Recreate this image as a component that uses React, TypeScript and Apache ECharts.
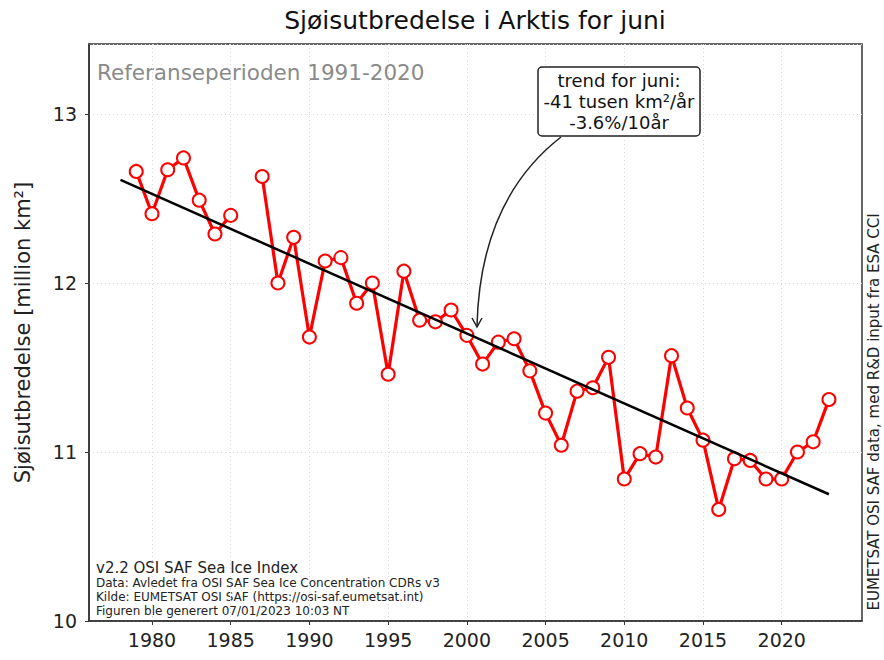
import React, { useEffect, useRef } from "react";
import * as echarts from "echarts";

const years = [
  1979, 1980, 1981, 1982, 1983, 1984, 1985, 1986, 1987, 1988, 1989, 1990,
  1991, 1992, 1993, 1994, 1995, 1996, 1997, 1998, 1999, 2000, 2001, 2002,
  2003, 2004, 2005, 2006, 2007, 2008, 2009, 2010, 2011, 2012, 2013, 2014,
  2015, 2016, 2017, 2018, 2019, 2020, 2021, 2022, 2023,
];
const extentJune: (number | null)[] = [
  12.66, 12.41, 12.67, 12.74, 12.49, 12.29, 12.4, null, 12.63, 12.0, 12.27, 11.68,
  12.13, 12.15, 11.88, 12.0, 11.46, 12.07, 11.78, 11.77, 11.84, 11.69, 11.52, 11.65,
  11.67, 11.48, 11.23, 11.04, 11.36, 11.38, 11.56, 10.84, 10.99, 10.97, 11.57, 11.26,
  11.07, 10.66, 10.96, 10.95, 10.84, 10.84, 11.0, 11.06, 11.31,
];
const trendYears = [1978, 2023];
const trendValues = [12.61, 10.75];
const xTickYears = [1980, 1985, 1990, 1995, 2000, 2005, 2010, 2015, 2020];

const FONT = "DejaVu Sans";

export default function App() {
  const ref = useRef<HTMLDivElement>(null);
  useEffect(() => {
    if (!ref.current) return;
    const chart = echarts.init(ref.current, undefined, { renderer: "svg" });
    const grid = { left: 89, top: 44, right: 22, bottom: 39 };
    chart.setOption({
      animation: false,
      backgroundColor: "#ffffff",
      textStyle: { fontFamily: FONT },
      grid: { ...grid, show: true, borderColor: "#333333", borderWidth: 1.5, backgroundColor: "transparent" },
      xAxis: {
        type: "value",
        min: 1976,
        max: 2025.1,
        axisLine: { show: true, onZero: false, lineStyle: { color: "#333", width: 1.5 } },
        axisTick: { show: true, length: 4, customValues: xTickYears, lineStyle: { color: "#333" } },
        axisLabel: {
          customValues: xTickYears,
          fontSize: 19,
          color: "#222",
          margin: 9,
          fontFamily: FONT,
          formatter: (v: number) => String(v),
        },
        splitLine: { show: true, lineStyle: { color: "#d8d8d8", type: [1, 3], width: 1 } },
      },
      yAxis: {
        type: "value",
        min: 10,
        max: 13.414,
        interval: 1,
        name: "Sjøisutbredelse [million km²]",
        nameLocation: "middle",
        nameGap: 56,
        nameTextStyle: { fontSize: 21, color: "#222", fontFamily: FONT },
        axisLine: { show: true, lineStyle: { color: "#333", width: 1.5 } },
        axisTick: { show: true, length: 4, lineStyle: { color: "#333" } },
        axisLabel: {
          fontSize: 19,
          color: "#222",
          margin: 12,
          showMaxLabel: false,
          fontFamily: FONT,
          formatter: (v: number) => (Number.isInteger(v) ? String(v) : ""),
        },
        splitLine: { show: true, lineStyle: { color: "#d8d8d8", type: [1, 3], width: 1 } },
      },
      series: [
        {
          type: "line",
          data: years.map((y, i) => [y, extentJune[i]]),
          connectNulls: false,
          lineStyle: { color: "#ff0000", width: 3.2 },
          itemStyle: { color: "#ffffff", borderColor: "#ff0000", borderWidth: 2 },
          symbol: "circle",
          symbolSize: 13,
          showSymbol: true,
          z: 2,
        },
        {
          type: "line",
          data: trendYears.map((y, i) => [y, trendValues[i]]),
          lineStyle: { color: "#000000", width: 2.5 },
          symbol: "none",
          z: 3,
        },
      ],
      graphic: [
        {
          type: "text",
          x: 475,
          y: 20,
          style: {
            text: "Sjøisutbredelse i Arktis for juni",
            font: `25px "${FONT}"`,
            fill: "#111",
            textAlign: "center",
            textVerticalAlign: "middle",
          },
        },
        {
          type: "text",
          x: 97,
          y: 72,
          style: {
            text: "Referanseperioden 1991-2020",
            font: `21.5px "${FONT}"`,
            fill: "#8a8a8a",
            textAlign: "left",
            textVerticalAlign: "middle",
          },
        },
        {
          type: "text",
          x: 96,
          y: 568,
          style: { text: "v2.2 OSI SAF Sea Ice Index", font: `15px "${FONT}"`, fill: "#222", textVerticalAlign: "middle" },
        },
        {
          type: "text",
          x: 96,
          y: 583,
          style: {
            text: "Data: Avledet fra OSI SAF Sea Ice Concentration CDRs v3",
            font: `12px "${FONT}"`,
            fill: "#222",
            textVerticalAlign: "middle",
          },
        },
        {
          type: "text",
          x: 96,
          y: 597,
          style: {
            text: "Kilde: EUMETSAT OSI SAF (https://osi-saf.eumetsat.int)",
            font: `12px "${FONT}"`,
            fill: "#222",
            textVerticalAlign: "middle",
          },
        },
        {
          type: "text",
          x: 96,
          y: 611,
          style: {
            text: "Figuren ble generert 07/01/2023 10:03 NT",
            font: `12px "${FONT}"`,
            fill: "#222",
            textVerticalAlign: "middle",
          },
        },
        {
          type: "text",
          x: 874,
          y: 412,
          rotation: Math.PI / 2,
          style: {
            text: "EUMETSAT OSI SAF data, med R&D input fra ESA CCI",
            font: `15px "${FONT}"`,
            fill: "#222",
            textAlign: "center",
            textVerticalAlign: "middle",
          },
        },
        {
          type: "bezierCurve",
          shape: { x1: 561, y1: 137, x2: 477, y2: 326, cpx1: 480, cpy1: 200 },
          style: { stroke: "#222", lineWidth: 1.5, fill: "none" },
          z: 10,
        },
        {
          type: "polyline",
          shape: { points: [[472, 318], [477, 327], [482, 318]] },
          style: { stroke: "#222", lineWidth: 1.5, fill: "none" },
          z: 10,
        },
        {
          type: "rect",
          shape: { x: 538, y: 67, width: 162, height: 69, r: 4 },
          style: { fill: "#ffffff", stroke: "#222", lineWidth: 1.5 },
          z: 11,
        },
        {
          type: "text",
          x: 619,
          y: 80,
          z: 12,
          style: { text: "trend for juni:", font: `18px "${FONT}"`, fill: "#111", textAlign: "center", textVerticalAlign: "middle" },
        },
        {
          type: "text",
          x: 619,
          y: 101,
          z: 12,
          style: { text: "-41 tusen km²/år", font: `18px "${FONT}"`, fill: "#111", textAlign: "center", textVerticalAlign: "middle" },
        },
        {
          type: "text",
          x: 619,
          y: 122,
          z: 12,
          style: { text: "-3.6%/10år", font: `18px "${FONT}"`, fill: "#111", textAlign: "center", textVerticalAlign: "middle" },
        },
      ],
    });
    return () => chart.dispose();
  }, []);
  return <div ref={ref} style={{ position: "fixed", left: 0, top: 0, width: 884, height: 660 }} />;
}
